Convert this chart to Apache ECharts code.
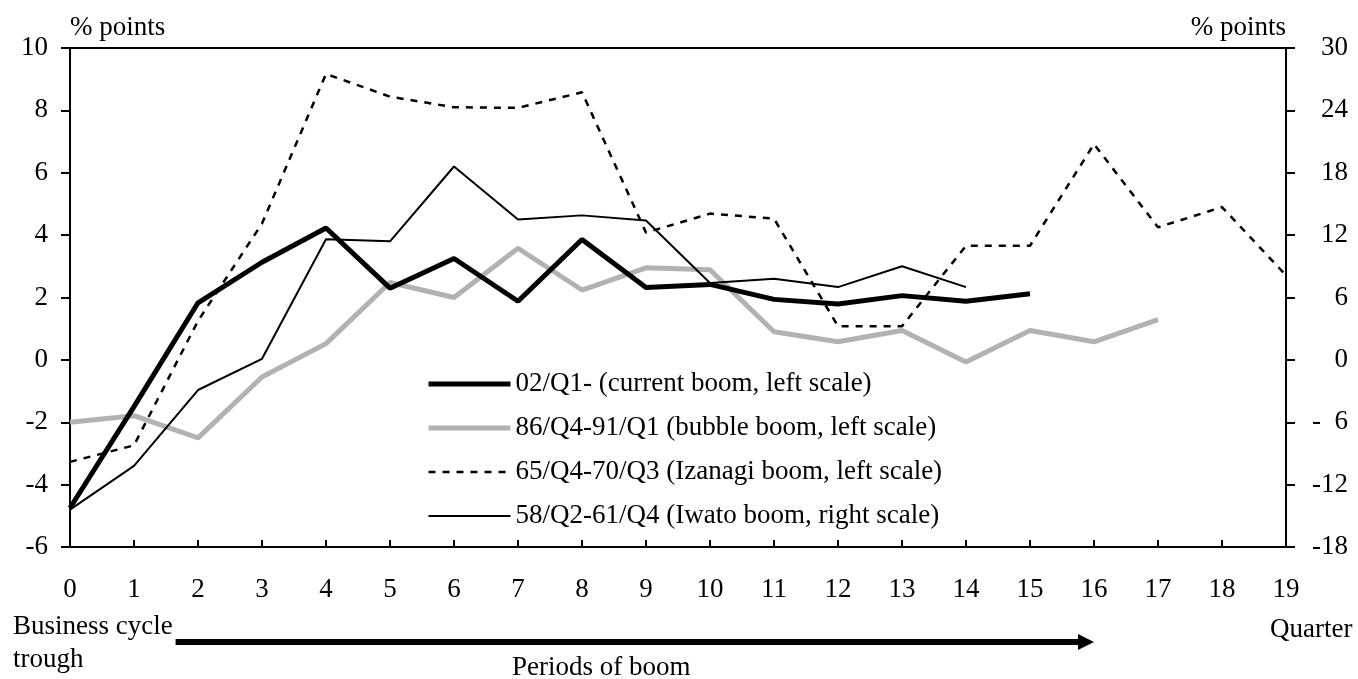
<!DOCTYPE html>
<html>
<head>
<meta charset="utf-8">
<script src="https://cdn.jsdelivr.net/npm/echarts@6/dist/echarts.min.js"></script>
<style>
html,body{margin:0;padding:0;background:#fff;}
#chart{width:1358px;height:679px;}
</style>
</head>
<body>
<div id="chart"></div>
<script>
// Quarters after business cycle trough
const quarters = [0,1,2,3,4,5,6,7,8,9,10,11,12,13,14,15,16,17,18,19];
// left scale (% points)
const currentBoom = [-4.75,-1.5,1.83,3.13,4.23,2.3,3.25,1.88,3.86,2.32,2.42,1.94,1.79,2.06,1.88,2.12];
const bubbleBoom  = [-2.0,-1.79,-2.5,-0.55,0.52,2.48,2.0,3.58,2.24,2.95,2.89,0.9,0.58,0.94,-0.07,0.94,0.58,1.29];
const izanagiBoom = [-3.27,-2.74,1.25,4.37,9.17,8.44,8.1,8.08,8.58,4.08,4.69,4.53,1.08,1.08,3.66,3.66,6.92,4.25,4.9,2.71];
// right scale (% points)
const iwatoBoom   = [-14.4,-10.2,-2.9,0.1,11.6,11.4,18.6,13.5,13.9,13.4,7.4,7.8,7.0,9.0,7.0];

const seriesNames = [
  '02/Q1- (current boom, left scale)',
  '86/Q4-91/Q1 (bubble boom, left scale)',
  '65/Q4-70/Q3 (Izanagi boom, left scale)',
  '58/Q2-61/Q4 (Iwato boom, right scale)'
];
const leftTicks = {min:-6, max:10, interval:2};
const rightTicks = {min:-18, max:30, interval:6};

const FONT = "'Liberation Serif','Times New Roman',serif";
const FS = 27;
const pairs = arr => arr.map((v,i)=>[quarters[i], v]);

const chart = echarts.init(document.getElementById('chart'), null, {renderer:'canvas'});
const option = {
  animation:false,
  backgroundColor:'#fff',
  textStyle:{fontFamily:FONT, color:'#000'},
  grid:{left:70, right:72, top:48, bottom:132, show:true, borderColor:'#000', borderWidth:2, backgroundColor:'transparent'},
  legend:{
    orient:'vertical', left:426, top:369, padding:0,
    itemWidth:82, itemHeight:14, itemGap:14,
    textStyle:{fontFamily:FONT, fontSize:FS, color:'#000', lineHeight:30},
    itemStyle:{color:'rgba(0,0,0,0)', borderColor:'rgba(0,0,0,0)', borderWidth:0, opacity:0},
    lineStyle:{width:'inherit'},
    data: seriesNames
  },
  xAxis:{
    type:'value', min:0, max:19, interval:1,
    axisLine:{onZero:false, lineStyle:{color:'#000', width:2}},
    axisTick:{inside:true, length:7, lineStyle:{color:'#000', width:2}},
    axisLabel:{fontFamily:FONT, fontSize:FS, color:'#000', margin:29},
    splitLine:{show:false}
  },
  yAxis:[
    {
      type:'value', position:'left', min:leftTicks.min, max:leftTicks.max, interval:leftTicks.interval,
      name:'% points', nameLocation:'end', nameGap:7,
      nameTextStyle:{fontFamily:FONT, fontSize:FS, color:'#000', align:'left'},
      axisLine:{show:true, onZero:false, lineStyle:{color:'#000', width:2}},
      axisTick:{show:true, inside:false, length:9, lineStyle:{color:'#000', width:2}},
      axisLabel:{fontFamily:FONT, fontSize:FS, color:'#000', margin:22},
      splitLine:{show:false}
    },
    {
      type:'value', position:'right', min:rightTicks.min, max:rightTicks.max, interval:rightTicks.interval,
      name:'% points', nameLocation:'end', nameGap:7,
      nameTextStyle:{fontFamily:FONT, fontSize:FS, color:'#000', align:'right'},
      axisLine:{show:true, onZero:false, lineStyle:{color:'#000', width:2}},
      axisTick:{show:true, inside:false, length:9, lineStyle:{color:'#000', width:2}},
      axisLabel:{fontFamily:FONT, fontSize:FS, color:'#000', margin:62, align:'right',
        formatter: v => v === -6 ? '-  6' : String(v)},
      splitLine:{show:false}
    }
  ],
  series:[
    {name:seriesNames[0], type:'line', yAxisIndex:0, data:pairs(currentBoom), symbol:'none', z:5,
     lineStyle:{color:'#000', width:5}, itemStyle:{color:'#000'}},
    {name:seriesNames[1], type:'line', yAxisIndex:0, data:pairs(bubbleBoom), symbol:'none', z:3,
     lineStyle:{color:'#b2b2b2', width:5}, itemStyle:{color:'#b2b2b2'}},
    {name:seriesNames[2], type:'line', yAxisIndex:0, data:pairs(izanagiBoom), symbol:'none', z:4,
     lineStyle:{color:'#000', width:2.5, type:[7,7]}, itemStyle:{color:'#000'}},
    {name:seriesNames[3], type:'line', yAxisIndex:1, data:pairs(iwatoBoom), symbol:'none', z:4,
     lineStyle:{color:'#000', width:2}, itemStyle:{color:'#000'}}
  ]
};
chart.setOption(option);

// annotation below the axis: arrow for "Periods of boom"
const arrowStart = chart.convertToPixel({xAxisIndex:0}, 1.65);
const arrowEnd = chart.convertToPixel({xAxisIndex:0}, 16);
const arrowY = 642;
const txt = (s) => ({text:s, font:FS+'px '+FONT, fill:'#000'});
chart.setOption({
  graphic:[
    {type:'text', left:13, top:613, style:txt('Business cycle')},
    {type:'text', left:13, top:646, style:txt('trough')},
    {type:'text', left:1270, top:616, style:txt('Quarter')},
    {type:'text', left:512, top:654, style:txt('Periods of boom')},
    {type:'line', shape:{x1:arrowStart, y1:arrowY, x2:arrowEnd-14, y2:arrowY}, style:{stroke:'#000', lineWidth:6}},
    {type:'polygon', shape:{points:[[arrowEnd-16,arrowY-8],[arrowEnd,arrowY],[arrowEnd-16,arrowY+8]]}, style:{fill:'#000'}}
  ]
});
</script>
</body>
</html>
